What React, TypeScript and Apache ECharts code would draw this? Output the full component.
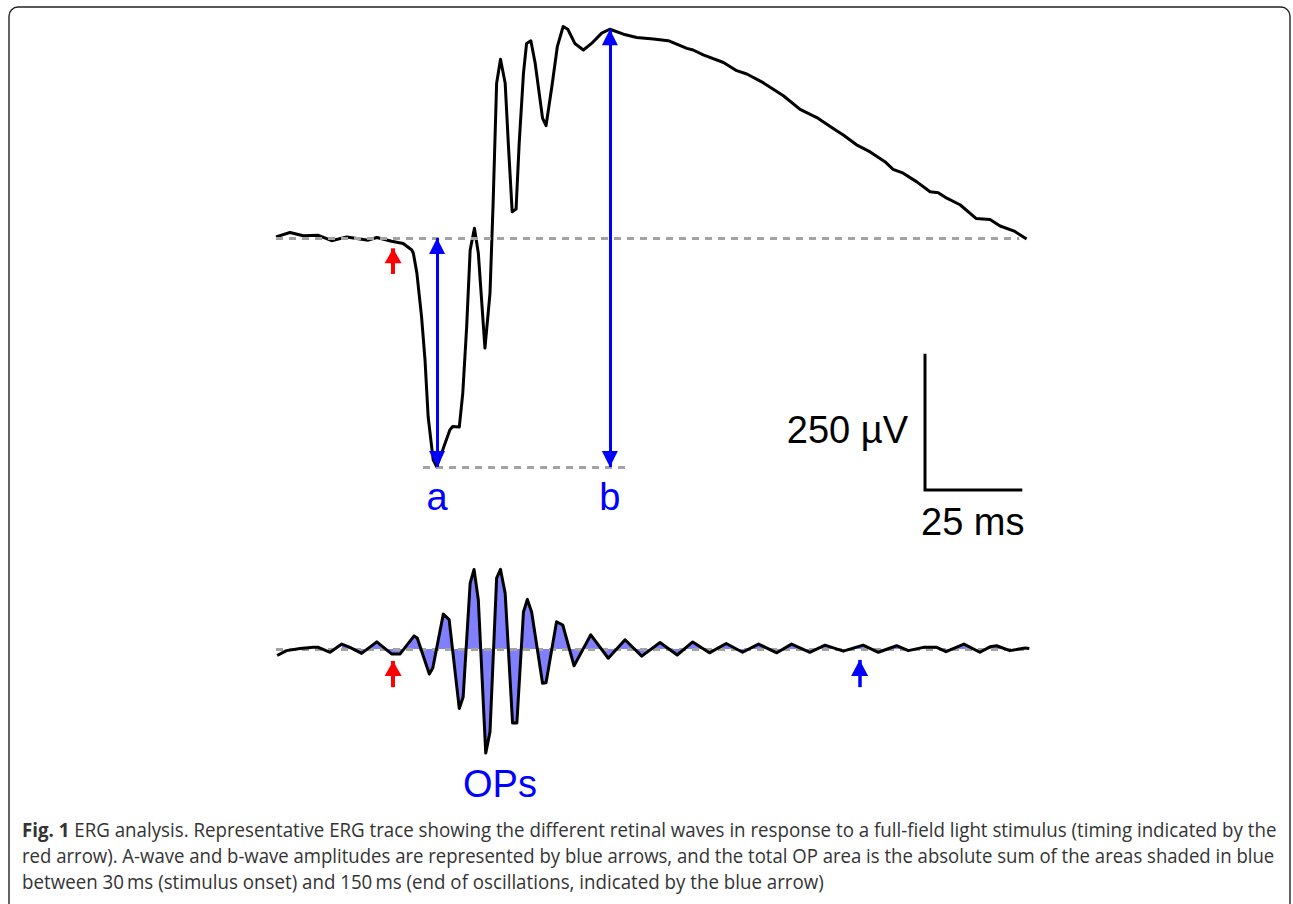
import React, { useEffect, useRef } from "react";
import * as echarts from "echarts";

// ---------- data ----------
// ERG trace: [time (ms), amplitude (µV)]
const ERG_TRACE: [number, number][] = [
  [0, 2], [3.6, 10], [7, 4], [10.9, 5], [14.3, -5], [18.2, 2], [23.7, -4], [25.9, 1],
  [29.7, -6], [32.7, -10], [34.9, -22], [35.3, -28], [36.2, -64], [37.4, -144], [38.3, -224],
  [39.1, -328], [40.4, -407], [41.3, -420], [43.0, -386], [44.7, -352], [45.4, -346],
  [47.1, -347], [48.0, -285], [49.0, -163], [49.9, -22], [51.0, 18], [52.0, -28],
  [53.7, -202], [55.0, -101], [55.8, 64], [56.7, 284], [57.7, 328], [58.9, 284],
  [59.7, 174], [60.7, 48], [61.7, 53], [62.5, 174], [63.6, 302], [64.4, 357], [65.5, 362],
  [66.6, 321], [68.5, 220], [69.4, 206], [70.9, 278], [72.3, 351], [73.8, 388], [75.0, 383],
  [76.8, 357], [79.0, 345], [81.1, 357], [83.7, 376], [85.8, 383], [89.3, 374], [92.7, 368],
  [97.0, 365], [100.8, 362], [105.6, 348], [107.2, 345], [109.8, 336], [115.0, 322],
  [118.4, 307], [121.0, 301], [125.2, 285], [130.4, 261], [134.7, 236], [139.0, 221],
  [143.2, 201], [145.8, 189], [149.2, 171], [152.7, 158], [156.5, 140], [158.6, 126],
  [161.2, 119], [164.7, 103], [168.1, 85], [170.2, 83], [172.4, 73], [175.8, 61],
  [179.9, 36], [183.5, 34], [186.1, 22], [189.9, 12], [192.9, -2],
];

// Oscillatory potentials: [time (ms), amplitude (µV)]
const OP_TRACE: [number, number][] = [
  [0.3, -12], [2.7, -3], [6.2, 1], [9.6, 3], [10.9, 3], [13.9, -6], [16.9, 9], [19, 3],
  [22, -8], [25.9, 13], [29.7, -9], [31.9, -9], [35.5, 24], [36.3, 20], [39.4, -46],
  [40.3, -35], [43, 64], [44.5, 54], [47.1, -109], [48.1, -88], [49.9, 121], [50.9, 146],
  [52, 90], [53.9, -191], [55, -152], [56.7, 130], [57.7, 146], [58.9, 102], [60.8, -136],
  [61.9, -136], [63.6, 68], [64.6, 91], [65.7, 68], [68.5, -63], [69.4, -62], [72.1, 50],
  [73.7, 44], [76.6, -31], [80.9, 26], [85.4, -17], [89.7, 17], [94, -13], [98.7, 12],
  [103.1, -11], [107.1, 13], [111.4, -7], [115.7, 10], [119.9, -6], [124, 9], [128.7, -7],
  [132.5, 9], [137.2, -6], [141.1, 7], [145.8, -4], [150.9, 7], [154.8, -6], [159.5, 6],
  [162.5, -3], [166.4, 3], [169.8, 3], [172.2, -5], [176.8, 9], [180.9, -6], [183.5, 4],
  [185.2, 6], [188.6, -3], [192.5, 2], [193.6, 1],
];

const A_WAVE = { t: 41.4, amp: -420 };
const B_WAVE = { t: 85.8, amp: 383 };
const A_LEVEL_SPAN = [37.8, 90.2];
const ERG_BASELINE_SPAN = [0, 191];
const OP_BASELINE_SPAN = [0, 193.8];
const OP_FILL_FROM = 14; // ms
const STIMULUS_T = 30.1; // ms, red arrows
const OP_END_T = 150; // ms, blue arrow
const ERG_STIM_ARROW = [-66, -19];
const OP_STIM_ARROW = [-70, -22];
const OP_END_ARROW = [-70, -20];

const SCALE_UV = 250;
const SCALE_MS = 25;

const LABEL_A = "a";
const LABEL_B = "b";
const LABEL_OPS = "OPs";
const SCALE_V_LABEL = "250 µV";
const SCALE_T_LABEL = "25 ms";

const CAPTION_BOLD = "Fig. 1";
const CAPTION_LINES = [
  " ERG analysis. Representative ERG trace showing the different retinal waves in response to a full-field light stimulus (timing indicated by the",
  "red arrow). A-wave and b-wave amplitudes are represented by blue arrows, and the total OP area is the absolute sum of the areas shaded in blue",
  "between 30\u2009ms (stimulus onset) and 150\u2009ms (end of oscillations, indicated by the blue arrow)",
];

// ---------- layout ----------
const X0 = 276;
const PX_PER_MS = 3.891;
const T_MAX = 194;
const PX_PER_UV = 0.545;
const ERG_BASE_Y = 238;
const ERG_RANGE = [-450, 400];
const OP_BASE_Y = 649;
const OP_RANGE = [-200, 160];

const BLUE = "#0000ff";
const RED = "#ff0000";
const DASH = { color: "#a3a3a3", width: 3, type: [7, 6] as number[] };
const LABEL_FONT = "Liberation Sans, Arial, sans-serif";
const CAPTION_FONT = "Open Sans";
const CAPTION_SIZE = 20;
const CAPTION_LEFT = 22;
const CAPTION_WIDTHS = [1255, 1253, 803];

function measure(text: string, font: string): number {
  const ctx = document.createElement("canvas").getContext("2d");
  if (!ctx) return text.length * 9;
  ctx.font = font;
  return ctx.measureText(text).width;
}

function arrowPair(
  t: number,
  from: number,
  to: number,
  color: string,
  width: number,
  head: [number, number],
  twoHeads: boolean
) {
  const sym = { symbol: "triangle", symbolSize: head, symbolOffset: [0, head[1] / 2] };
  return [
    {
      coord: [t, from],
      lineStyle: { color, width, type: "solid" },
      ...(twoHeads ? sym : { symbol: "none" }),
    },
    { coord: [t, to], ...sym },
  ];
}

function buildOption() {
  const gridW = T_MAX * PX_PER_MS;

  // scale bar geometry derived from scale constants
  const sbX = 925;
  const sbBottom = 490;
  const sbTop = sbBottom - SCALE_UV * PX_PER_UV;
  const sbRight = sbX + SCALE_MS * PX_PER_MS;

  const regular = `${CAPTION_SIZE}px "${CAPTION_FONT}"`;
  const bold = `bold ${CAPTION_SIZE}px "${CAPTION_FONT}"`;
  const capScales = CAPTION_LINES.map((line, i) => {
    const w = measure(line, regular) + (i === 0 ? measure(CAPTION_BOLD, bold) : 0);
    return CAPTION_WIDTHS[i] / w;
  });

  const aX = X0 + A_WAVE.t * PX_PER_MS;
  const bX = X0 + B_WAVE.t * PX_PER_MS;

  return {
    animation: false,
    backgroundColor: "#ffffff",
    grid: [
      {
        left: X0,
        width: gridW,
        top: ERG_BASE_Y - ERG_RANGE[1] * PX_PER_UV,
        height: (ERG_RANGE[1] - ERG_RANGE[0]) * PX_PER_UV,
      },
      {
        left: X0,
        width: gridW,
        top: OP_BASE_Y - OP_RANGE[1] * PX_PER_UV,
        height: (OP_RANGE[1] - OP_RANGE[0]) * PX_PER_UV,
      },
    ],
    xAxis: [
      { type: "value", gridIndex: 0, min: 0, max: T_MAX, show: false },
      { type: "value", gridIndex: 1, min: 0, max: T_MAX, show: false },
    ],
    yAxis: [
      { type: "value", gridIndex: 0, min: ERG_RANGE[0], max: ERG_RANGE[1], show: false },
      { type: "value", gridIndex: 1, min: OP_RANGE[0], max: OP_RANGE[1], show: false },
    ],
    series: [
      {
        type: "line",
        name: "ERG",
        xAxisIndex: 0,
        yAxisIndex: 0,
        data: ERG_TRACE,
        symbol: "none",
        silent: true,
        clip: false,
        z: 3,
        lineStyle: { color: "#000", width: 3, join: "round" },
        markLine: {
          silent: true,
          symbol: ["none", "none"],
          label: { show: false },
          data: [
            [
              { coord: [ERG_BASELINE_SPAN[0], 0], lineStyle: DASH },
              { coord: [ERG_BASELINE_SPAN[1], 0] },
            ],
            [
              { coord: [A_LEVEL_SPAN[0], A_WAVE.amp], lineStyle: DASH },
              { coord: [A_LEVEL_SPAN[1], A_WAVE.amp] },
            ],
            arrowPair(A_WAVE.t, 0, A_WAVE.amp, BLUE, 3, [16, 16], true),
            arrowPair(B_WAVE.t, B_WAVE.amp, A_WAVE.amp, BLUE, 3, [16, 16], true),
            arrowPair(STIMULUS_T, ERG_STIM_ARROW[0], ERG_STIM_ARROW[1], RED, 4, [17, 15], false),
          ],
        },
      },
      {
        type: "line",
        name: "OP area",
        xAxisIndex: 1,
        yAxisIndex: 1,
        data: OP_TRACE.filter((p) => p[0] >= OP_FILL_FROM),
        symbol: "none",
        silent: true,
        z: 1,
        lineStyle: { width: 0 },
        areaStyle: { color: "#8080ff", opacity: 1, origin: "auto" },
        markLine: {
          silent: true,
          z: 2,
          symbol: ["none", "none"],
          label: { show: false },
          data: [
            [
              { coord: [OP_BASELINE_SPAN[0], 0], lineStyle: DASH },
              { coord: [OP_BASELINE_SPAN[1], 0] },
            ],
          ],
        },
      },
      {
        type: "line",
        name: "OPs",
        xAxisIndex: 1,
        yAxisIndex: 1,
        data: OP_TRACE,
        symbol: "none",
        silent: true,
        z: 3,
        lineStyle: { color: "#000", width: 3, join: "round" },
        markLine: {
          silent: true,
          symbol: ["none", "none"],
          label: { show: false },
          data: [
            arrowPair(STIMULUS_T, OP_STIM_ARROW[0], OP_STIM_ARROW[1], RED, 4, [17, 15], false),
            arrowPair(OP_END_T, OP_END_ARROW[0], OP_END_ARROW[1], BLUE, 3.5, [17, 16], false),
          ],
        },
      },
    ],
    graphic: [
      {
        type: "rect",
        silent: true,
        shape: { x: 9, y: 7, width: 1281, height: 905, r: 9 },
        style: { fill: "none", stroke: "#222", lineWidth: 1.4 },
      },
      {
        type: "text",
        x: aX,
        y: 497,
        style: { text: LABEL_A, fill: BLUE, fontSize: 38, fontFamily: LABEL_FONT, align: "center", verticalAlign: "middle" },
      },
      {
        type: "text",
        x: bX,
        y: 497,
        style: { text: LABEL_B, fill: BLUE, fontSize: 38, fontFamily: LABEL_FONT, align: "center", verticalAlign: "middle" },
      },
      {
        type: "text",
        x: 500,
        y: 784,
        style: { text: LABEL_OPS, fill: BLUE, fontSize: 38, fontFamily: LABEL_FONT, align: "center", verticalAlign: "middle" },
      },
      {
        type: "polyline",
        silent: true,
        shape: { points: [[sbX, sbTop], [sbX, sbBottom], [sbRight, sbBottom]] },
        style: { stroke: "#000", lineWidth: 3, fill: "none" },
      },
      {
        type: "text",
        x: 908,
        y: 430,
        style: { text: SCALE_V_LABEL, fill: "#000", fontSize: 38, fontFamily: LABEL_FONT, align: "right", verticalAlign: "middle" },
      },
      {
        type: "text",
        x: 921,
        y: 522,
        style: { text: SCALE_T_LABEL, fill: "#000", fontSize: 38, fontFamily: LABEL_FONT, align: "left", verticalAlign: "middle" },
      },
      ...CAPTION_LINES.map((line, i) => ({
        type: "text",
        x: CAPTION_LEFT,
        y: 829.5 + i * 26,
        scaleX: capScales[i],
        silent: true,
        style: {
          text: i === 0 ? `{b|${CAPTION_BOLD}}${line}` : line,
          fill: "#333",
          fontSize: CAPTION_SIZE,
          fontFamily: CAPTION_FONT,
          align: "left",
          verticalAlign: "middle",
          rich: {
            b: { fontWeight: "bold", fontSize: CAPTION_SIZE, fontFamily: CAPTION_FONT, fill: "#333" },
          },
        },
      })),
    ],
  };
}

export default function App() {
  const ref = useRef<HTMLDivElement>(null);
  useEffect(() => {
    if (!ref.current) return;
    const chart = echarts.init(ref.current, null, { renderer: "svg" });
    chart.setOption(buildOption() as any);
    return () => chart.dispose();
  }, []);
  return (
    <div
      ref={ref}
      style={{ position: "fixed", left: 0, top: 0, width: 1293, height: 904, background: "#fff" }}
    />
  );
}
